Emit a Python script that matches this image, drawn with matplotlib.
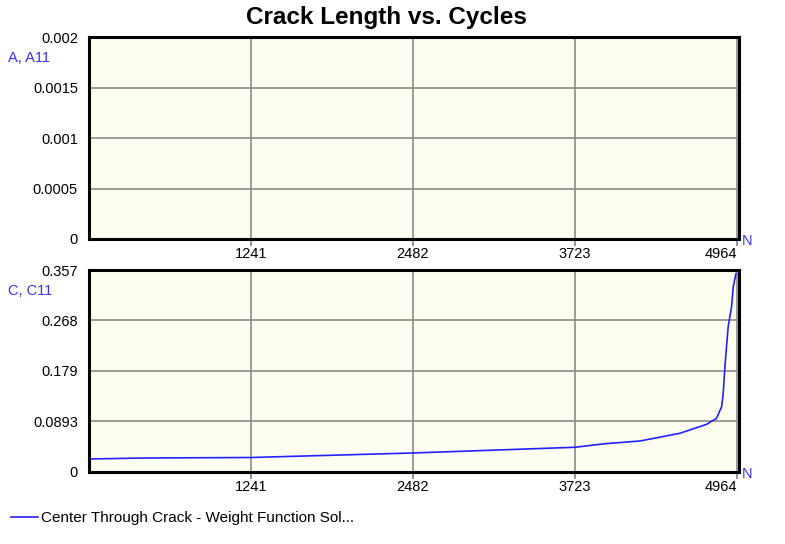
import numpy as np
import matplotlib.pyplot as plt

plt.rcParams['font.family'] = ['Liberation Sans', 'DejaVu Sans']

# crack length C vs cycles N
cycles = [0, 429, 1241, 2482, 3723, 3953, 4221, 4527, 4732, 4808, 4847, 4859, 4872, 4897, 4923, 4936, 4957]
crack_c = [0.023, 0.0247, 0.0256, 0.0336, 0.0437, 0.050, 0.0548, 0.0684, 0.0843, 0.095, 0.1155, 0.139, 0.186, 0.257, 0.292, 0.3275, 0.351]

xticks = [1241, 2482, 3723, 4964]
yticks_a = [0, 0.0005, 0.001, 0.0015, 0.002]
yticks_c = [0, 0.0893, 0.179, 0.268, 0.357]
yticklabels_a = ['0', '0.0005', '0.001', '0.0015', '0.002']
yticklabels_c = ['0', '0.0893', '0.179', '0.268', '0.357']

fig = plt.figure(figsize=(7.85, 5.44), dpi=100)
ax1 = fig.add_axes([0.1134, 0.5607, 0.828, 0.371])
ax2 = fig.add_axes([0.1134, 0.1324, 0.828, 0.371])

fs = 10.5
bg = '#fefef0'
for ax, yt, ytl, lab in [(ax1, yticks_a, yticklabels_a, 'A, A11'),
                         (ax2, yticks_c, yticklabels_c, 'C, C11')]:
    ax.set_facecolor(bg)
    ax.set_xlim(0, 4980)
    ax.set_ylim(yt[0], yt[-1])
    ax.set_xticks(xticks)
    ax.set_xticklabels([str(t) for t in xticks], fontsize=fs)
    ax.get_xticklabels()[-1].set_ha('right')
    ax.get_xticklabels()[-1].set_x(4980)
    ax.set_yticks(yt)
    ax.set_yticklabels(ytl, fontsize=fs)
    ax.tick_params(axis='x', length=5, width=1.2, color='grey', pad=1)
    ax.tick_params(axis='y', length=0, pad=8)
    ax.grid(True, color='#8a8a8a', linewidth=1.2)
    ax.set_axisbelow(True)
    for s in ax.spines.values():
        s.set_linewidth(2.2)
        s.set_color('black')
    ax.text(-0.1246, 0.895, lab, transform=ax.transAxes, color='#3333ff', fontsize=fs,
            va='center', ha='left')
    ax.text(1.005, -0.01, 'N', transform=ax.transAxes, color='#3333ff', fontsize=fs,
            va='center', ha='left')

ax2.plot(cycles, crack_c, color='#2222ff', linewidth=1.2,
         label='Center Through Crack - Weight Function Sol...')

fig.text(0.492, 0.968, 'Crack Length vs. Cycles', fontsize=17.5, fontweight='bold',
         ha='center', va='center')
fig.legend(loc='center left', bbox_to_anchor=(0.0, 0.048), frameon=False, fontsize=11,
           handlelength=1.8, handletextpad=0.2, borderaxespad=0.3)

fig.savefig('out.png', dpi=100)
